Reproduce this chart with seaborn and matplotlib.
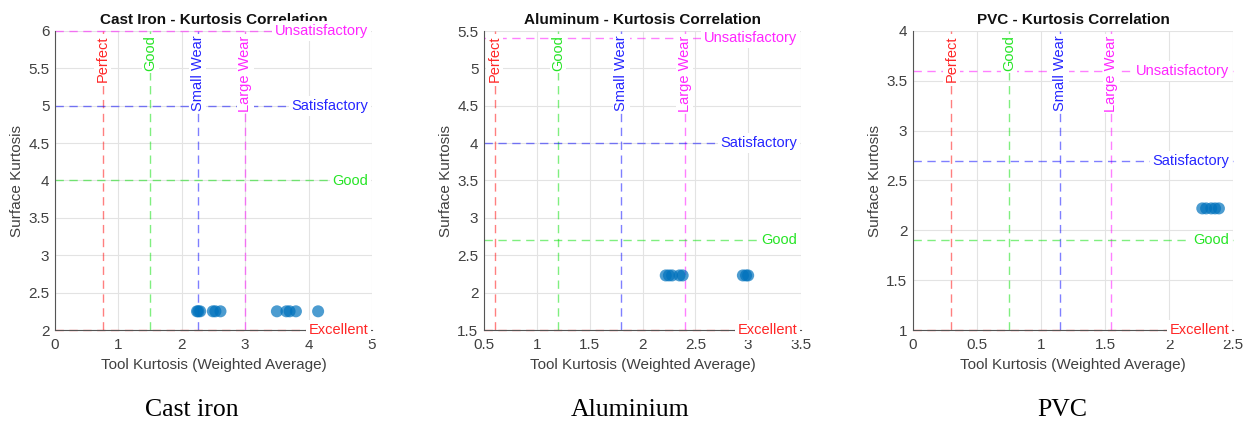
import numpy as np
import pandas as pd
import matplotlib
matplotlib.use("Agg")
import matplotlib.pyplot as plt
import matplotlib.transforms as mtransforms
import seaborn as sns

# ---------------- data ----------------
materials = ["Cast Iron", "Aluminum", "PVC"]
captions = ["Cast iron", "Aluminium", "PVC"]

cast_tool = [2.24, 2.26, 2.29, 2.49, 2.53, 2.61, 3.50, 3.65, 3.70, 3.80, 4.15]
cast_surf = [2.25] * len(cast_tool)
alu_tool = [2.22, 2.25, 2.28, 2.35, 2.38, 2.95, 2.98, 3.00]
alu_surf = [2.23] * len(alu_tool)
pvc_tool = [2.26, 2.29, 2.33, 2.36, 2.39]
pvc_surf = [2.22] * len(pvc_tool)

vline_labels = ["Perfect", "Good", "Small Wear", "Large Wear"]
hline_labels = ["Unsatisfactory", "Satisfactory", "Good", "Excellent"]
cast_vlines = [0.75, 1.5, 2.25, 3.0]
cast_hlines = [6.0, 5.0, 4.0, 2.0]
alu_vlines = [0.6, 1.2, 1.8, 2.4]
alu_hlines = [5.4, 4.0, 2.7, 1.5]
pvc_vlines = [0.3, 0.75, 1.15, 1.55]
pvc_hlines = [3.6, 2.7, 1.9, 1.0]

cast_xlim, cast_ylim = (0, 5), (2, 6)
alu_xlim, alu_ylim = (0.5, 3.5), (1.5, 5.5)
pvc_xlim, pvc_ylim = (0, 2.5), (1, 4)
cast_xticks = [0, 1, 2, 3, 4, 5]
cast_yticks = [2, 2.5, 3, 3.5, 4, 4.5, 5, 5.5, 6]
alu_xticks = [0.5, 1, 1.5, 2, 2.5, 3, 3.5]
alu_yticks = [1.5, 2, 2.5, 3, 3.5, 4, 4.5, 5, 5.5]
pvc_xticks = [0, 0.5, 1, 1.5, 2, 2.5]
pvc_yticks = [1, 1.5, 2, 2.5, 3, 3.5, 4]

panels = [
    (cast_tool, cast_surf, cast_vlines, cast_hlines, cast_xlim, cast_ylim, cast_xticks, cast_yticks),
    (alu_tool, alu_surf, alu_vlines, alu_hlines, alu_xlim, alu_ylim, alu_xticks, alu_yticks),
    (pvc_tool, pvc_surf, pvc_vlines, pvc_hlines, pvc_xlim, pvc_ylim, pvc_xticks, pvc_yticks),
]

# ---------------- style ----------------
sns.set_style("white")
plt.rcParams["font.family"] = ["Liberation Sans", "DejaVu Sans"]

vcolors = ["#ff0000", "#00e000", "#0000ff", "#ff00ff"]
hcolors = ["#ff00ff", "#0000ff", "#00e000", "#ff0000"]
pt_color = "#0072BD"
txt_gray = "#404040"

fig = plt.figure(figsize=(12.53, 4.23), dpi=100)
ax_pos = [
    [55 / 1253, 1 - 330 / 423, 317 / 1253, 299 / 423],
    [484 / 1253, 1 - 330 / 423, 317 / 1253, 299 / 423],
    [913 / 1253, 1 - 330 / 423, 320 / 1253, 299 / 423],
]
caption_x = [192 / 1253, 630 / 1253, 1062 / 1253]

def fmt(v):
    return f"{v:g}"

for i, (tool, surf, vl, hl, xl, yl, xt, yt) in enumerate(panels):
    ax = fig.add_axes(ax_pos[i])
    df = pd.DataFrame({"tool": tool, "surf": surf})
    sns.scatterplot(data=df, x="tool", y="surf", ax=ax, s=75, color=pt_color,
                    alpha=0.7, edgecolor="none", zorder=5, clip_on=False)
    ax.set_xlim(*xl)
    ax.set_ylim(*yl)
    ax.set_xticks(xt)
    ax.set_yticks(yt)
    ax.set_xticklabels([fmt(v) for v in xt])
    ax.set_yticklabels([fmt(v) for v in yt])
    ax.grid(True, color="#e3e3e3", linewidth=0.8, zorder=0)
    ax.set_axisbelow(True)
    for s in ["top", "right"]:
        ax.spines[s].set_visible(False)
    for s in ["left", "bottom"]:
        ax.spines[s].set_color("#555555")
        ax.spines[s].set_linewidth(0.8)
    ax.tick_params(axis="both", direction="in", length=3, colors="#555555",
                   labelcolor=txt_gray, labelsize=11)
    ax.tick_params(axis="x", pad=6)
    ax.tick_params(axis="y", pad=4)
    ax.set_xlabel("Tool Kurtosis (Weighted Average)", fontsize=11, color=txt_gray, labelpad=4)
    ax.set_ylabel("Surface Kurtosis", fontsize=11, color=txt_gray, labelpad=3)
    ax.set_title(f"{materials[i]} - Kurtosis Correlation", fontsize=11,
                 fontweight="bold", color="#111111", pad=5)

    bx = mtransforms.blended_transform_factory(ax.transData, ax.transAxes)
    by = mtransforms.blended_transform_factory(ax.transAxes, ax.transData)
    for v, lab, c in zip(vl, vline_labels, vcolors):
        ax.axvline(v, color=c, linestyle=(0, (6, 4)), linewidth=1.0, alpha=0.5, zorder=2)
        ax.text(v, 0.985, lab, transform=bx, rotation=90, ha="center", va="top",
                color=c, alpha=0.85, fontsize=10.5, zorder=4,
                bbox=dict(facecolor="white", edgecolor="none", pad=1.0))
    for v, lab, c in zip(hl, hline_labels, hcolors):
        ax.axhline(v, color=c, linestyle=(0, (6, 4)), linewidth=1.0, alpha=0.5, zorder=2,
                   clip_on=False)
        ax.text(0.988, v, lab, transform=by, ha="right", va="center",
                color=c, alpha=0.85, fontsize=10.5, zorder=4,
                bbox=dict(facecolor="white", edgecolor="none", pad=2.0))

    fig.text(caption_x[i], 1 - 410 / 423, captions[i], ha="center", va="center",
             fontsize=18.5, family=["Liberation Serif", "DejaVu Serif"], color="black")

fig.savefig("out.png", dpi=100, facecolor="white")
